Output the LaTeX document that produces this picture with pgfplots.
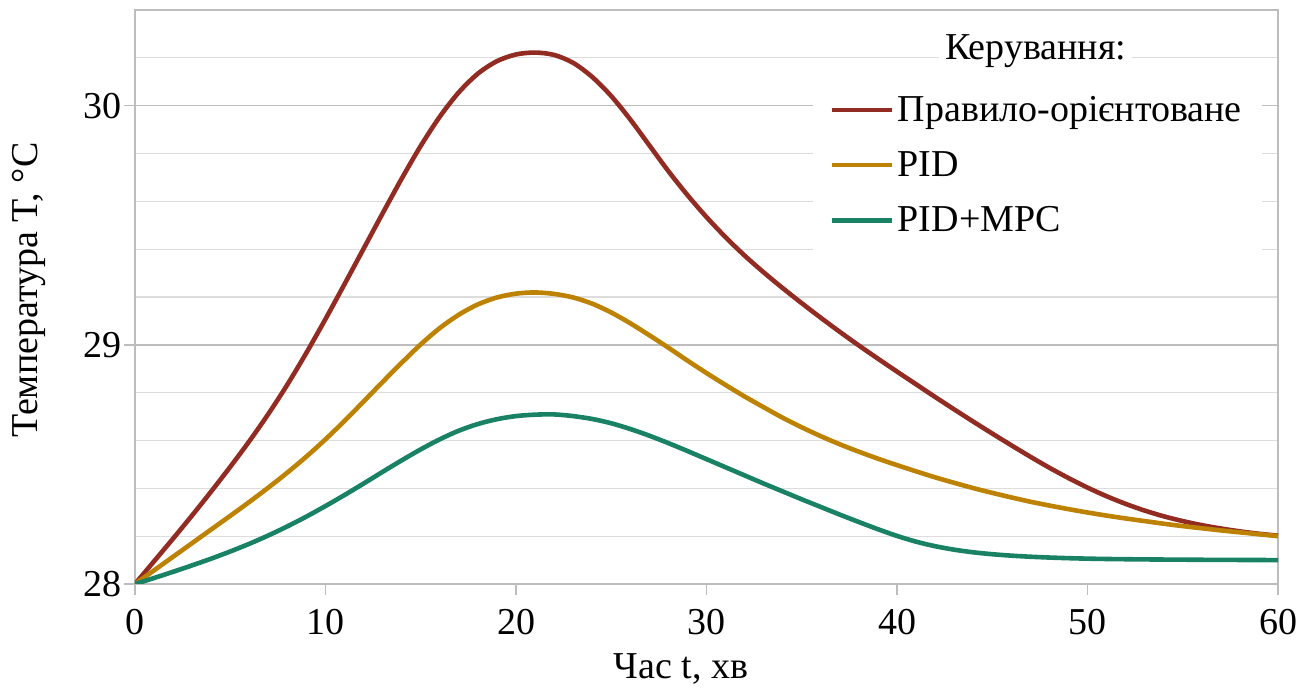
\documentclass[border=0pt]{standalone}
\usepackage{fontspec}
\setmainfont{Liberation Serif}
\usepackage{pgfplots}
\usepackage{pgfplotstable}
\pgfplotsset{compat=1.18}
\definecolor{cred}{HTML}{922B22}
\definecolor{corange}{HTML}{BE8203}
\definecolor{cgreen}{HTML}{198264}
\definecolor{majgrid}{HTML}{BDBDBD}
\definecolor{mingrid}{HTML}{DDDDDD}
\newcommand{\fs}{\fontsize{19}{23}\selectfont}
\pgfplotstableread{
t rule pid mpc
0 28.000 28.000 28.000
1 28.095 28.057 28.025
2 28.190 28.114 28.051
3 28.287 28.171 28.078
4 28.387 28.228 28.106
5 28.490 28.285 28.136
6 28.597 28.343 28.168
7 28.711 28.403 28.203
8 28.834 28.466 28.241
9 28.967 28.533 28.282
10 29.108 28.605 28.326
11 29.254 28.682 28.372
12 29.402 28.763 28.420
13 29.550 28.845 28.469
14 29.695 28.925 28.517
15 29.832 29.002 28.563
16 29.954 29.070 28.605
17 30.056 29.126 28.641
18 30.134 29.169 28.669
19 30.186 29.198 28.689
20 30.214 29.214 28.702
21 30.222 29.219 28.708
22 30.212 29.213 28.709
23 30.179 29.198 28.702
24 30.120 29.172 28.690
25 30.040 29.135 28.672
26 29.942 29.090 28.648
27 29.834 29.040 28.620
28 29.726 28.988 28.589
29 29.626 28.934 28.556
30 29.534 28.882 28.522
31 29.450 28.832 28.488
32 29.373 28.784 28.454
33 29.303 28.739 28.420
34 29.237 28.695 28.387
35 29.174 28.655 28.354
36 29.113 28.618 28.322
37 29.054 28.584 28.290
38 28.997 28.553 28.259
39 28.942 28.524 28.229
40 28.888 28.497 28.201
41 28.835 28.471 28.177
42 28.782 28.446 28.158
43 28.730 28.423 28.1435
44 28.679 28.401 28.1325
45 28.629 28.381 28.1245
46 28.580 28.362 28.1185
47 28.532 28.344 28.114
48 28.486 28.328 28.1106
49 28.443 28.313 28.108
50 28.403 28.299 28.106
51 28.367 28.286 28.1046
52 28.335 28.274 28.1036
53 28.307 28.263 28.1028
54 28.283 28.252 28.1022
55 28.263 28.242 28.1017
56 28.246 28.233 28.1012
57 28.232 28.224 28.1008
58 28.220 28.216 28.1005
59 28.210 28.208 28.1002
60 28.202 28.200 28.1000
}\datatable
\begin{document}
\begin{tikzpicture}
\begin{axis}[
  scale only axis,
  width=571.5pt, height=287pt,
  xmin=0, xmax=60, ymin=28, ymax=30.4,
  xtick={0,10,...,60},
  ytick={28,29,30},
  minor ytick={28.2,28.4,28.6,28.8,29.2,29.4,29.6,29.8,30.2},
  ymajorgrids, yminorgrids,
  major grid style={majgrid, line width=0.75pt},
  minor grid style={mingrid, line width=0.6pt},
  axis line style={majgrid, line width=0.75pt},
  tick align=outside,
  xtick pos=bottom, ytick pos=left,
  major tick length=5.5pt, minor tick length=0pt,
  tick style={majgrid, line width=0.75pt},
  /pgf/number format/assume math mode=true,
  ticklabel style={font=\fs},
  xticklabel style={yshift=-3.6pt},
  yticklabel style={xshift=2.2pt},
  xlabel={Час t, хв},
  ylabel={Температура T, °C},
  every axis x label/.style={at={(rel axis cs:0.4777,-0.1638)}, anchor=base, font=\fs},
  every axis y label/.style={at={(rel axis cs:-0.0849,0.512)}, anchor=base, rotate=90, font=\fs},
  legend style={at={(rel axis cs:0.593,0.879)}, anchor=north west, draw=none, fill=white,
    font=\fs, row sep=9.6pt, inner xsep=8pt, inner ysep=6pt,
    /tikz/every even column/.append style={column sep=4.5pt}},
  legend cell align=left,
  legend image code/.code={\draw[#1, line width=2.3pt] (0pt,0pt) -- (30pt,0pt);},
]
\addplot[cred, line width=2.3pt, smooth] table[x=t, y=rule] {\datatable};
\addlegendentry{Правило-орієнтоване}
\addplot[corange, line width=2.3pt, smooth] table[x=t, y=pid] {\datatable};
\addlegendentry{PID}
\addplot[cgreen, line width=2.3pt, smooth] table[x=t, y=mpc] {\datatable};
\addlegendentry{PID+MPC}
\node[fill=white, inner sep=3pt, anchor=base, font=\fs] at (rel axis cs:0.788,0.913) {Керування:};
\coordinate (sw) at (rel axis cs:0,0);
\coordinate (ne) at (rel axis cs:1,1);
\end{axis}
\pgfresetboundingbox
\path[use as bounding box] ([xshift=-67.5pt,yshift=-52pt]sw) rectangle ([xshift=15.5pt,yshift=5pt]ne);
\end{tikzpicture}
\end{document}
